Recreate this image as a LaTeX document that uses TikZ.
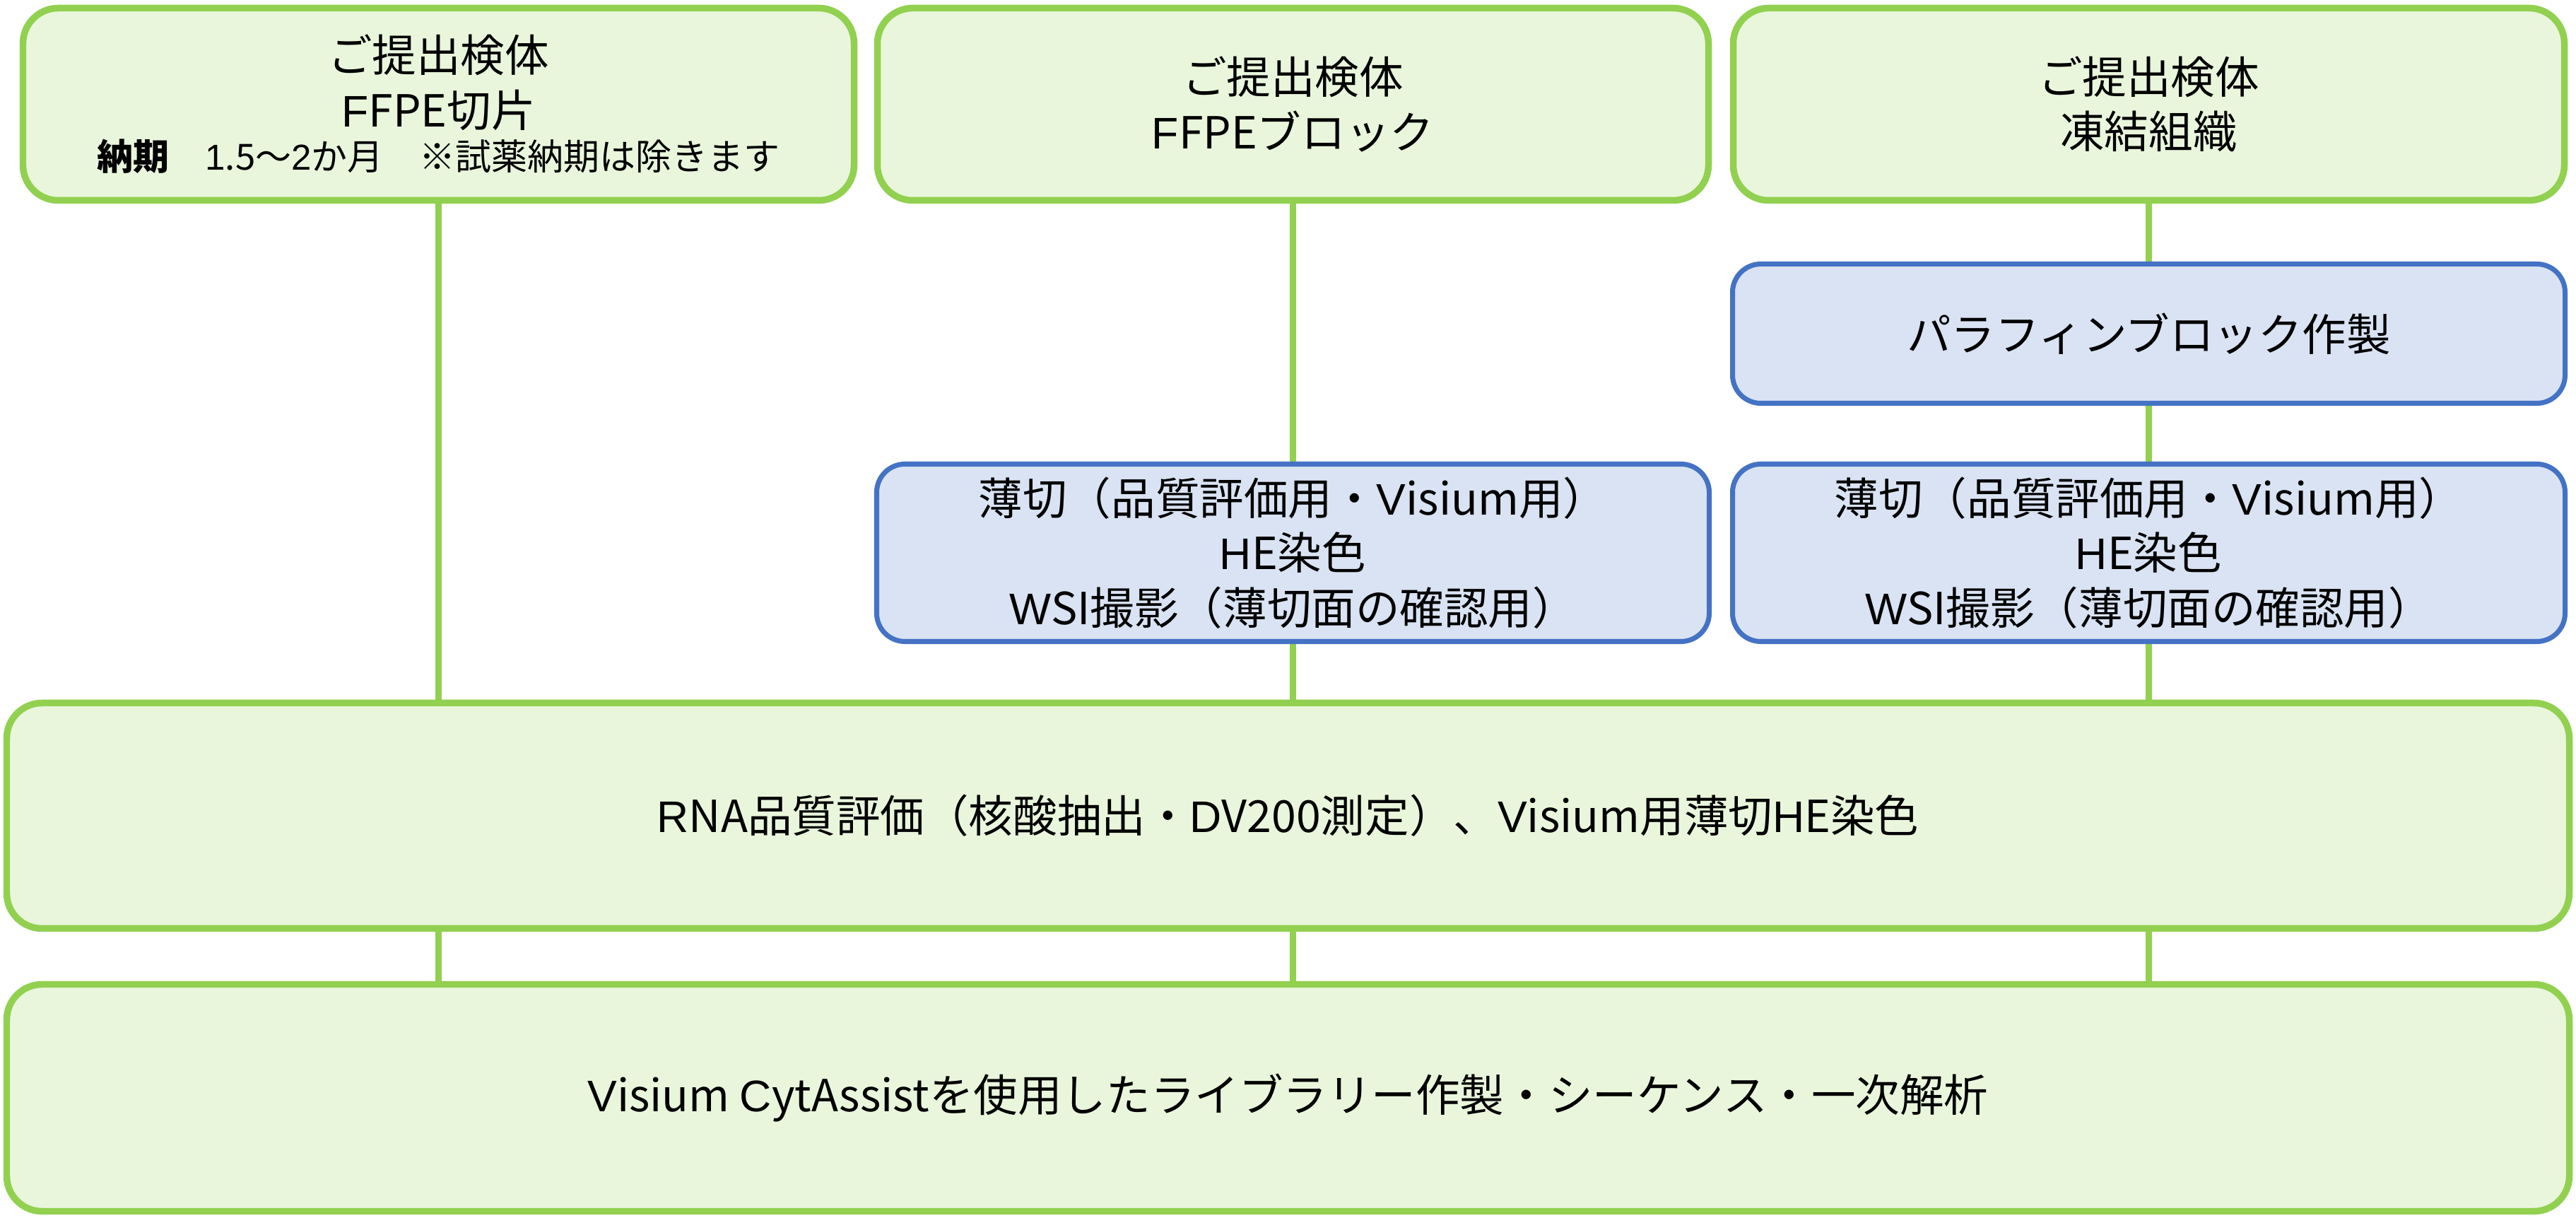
\documentclass[tikz,border=0pt]{standalone}
\usepackage{fontspec}
\setmainfont{Noto Sans CJK JP}
\newfontfamily\latfont{Liberation Sans}
\newfontfamily\jpfont{Noto Sans CJK JP}
\usetikzlibrary{backgrounds}
\definecolor{leafline}{HTML}{92D050}
\definecolor{leaffill}{HTML}{E9F6DC}
\definecolor{skyline}{HTML}{4472C4}
\definecolor{skyfill}{HTML}{DAE3F3}
% latin runs in Liberation Sans
\newXeTeXintercharclass\latclass
\newcount\latcount
\def\setlat#1#2{\latcount=`#1\relax
  \loop\XeTeXcharclass\latcount=\latclass
  \ifnum\latcount<`#2\relax\advance\latcount by 1\repeat}
\setlat{A}{Z}\setlat{a}{z}\setlat{0}{9}\setlat{.}{.}
\XeTeXinterchartoks 0 \latclass={\latfont}
\XeTeXinterchartoks 1 \latclass={\latfont}
\XeTeXinterchartoks 2 \latclass={\latfont}
\XeTeXinterchartoks 3 \latclass={\latfont}
\XeTeXinterchartoks 4095 \latclass={\latfont}
\XeTeXinterchartoks \latclass 0={\jpfont}
\XeTeXinterchartoks \latclass 1={\jpfont}
\XeTeXinterchartoks \latclass 2={\jpfont}
\XeTeXinterchartoks \latclass 3={\jpfont}
\XeTeXinterchartoks \latclass 4095={\jpfont}
\begin{document}
\XeTeXinterchartokenstate=1
\begin{tikzpicture}[
  greenbox/.style={draw=leafline, fill=leaffill, line width=2.7pt, rounded corners=0.5cm, align=center, inner sep=0pt},
  bluebox/.style={draw=skyline, fill=skyfill, line width=2pt, rounded corners=0.4cm, align=center, inner sep=0pt},
  link/.style={draw=leafline, line width=2.8pt},
  font=\fontsize{17.8}{22}\selectfont
]
\useasboundingbox (0,0) rectangle (36.45,17.23);

\node[greenbox, minimum width=11.76cm, minimum height=2.72cm] (cut) at (6.205,15.755)
  {ご提出検体\\FFPE切片\\[-4.5pt]{\fontsize{14.5}{17}\selectfont\textbf{納期}　1.5～2か月　※試薬納期は除きます}};
\node[greenbox, minimum width=11.76cm, minimum height=2.72cm] (block) at (18.295,15.755)
  {ご提出検体\\FFPEブロック};
\node[greenbox, minimum width=11.76cm, minimum height=2.72cm] (frozen) at (30.405,15.755)
  {ご提出検体\\凍結組織};

\node[bluebox, minimum width=11.78cm, minimum height=1.97cm] (paraffin) at (30.405,12.51)
  {パラフィンブロック作製};
\node[bluebox, minimum width=11.78cm, minimum height=2.51cm] (sliceB) at (18.295,9.41)
  {薄切（品質評価用・Visium用）\\HE染色\\WSI撮影（薄切面の確認用）};
\node[bluebox, minimum width=11.78cm, minimum height=2.51cm] (sliceC) at (30.405,9.41)
  {薄切（品質評価用・Visium用）\\HE染色\\WSI撮影（薄切面の確認用）};

\node[greenbox, minimum width=36.26cm, minimum height=3.19cm] (rna) at (18.225,5.69)
  {RNA品質評価（核酸抽出・DV200測定）、Visium用薄切HE染色};
\node[greenbox, minimum width=36.26cm, minimum height=3.21cm] (lib) at (18.225,1.70)
  {Visium CytAssistを使用したライブラリー作製・シーケンス・一次解析};

\begin{scope}[on background layer]
\draw[link] (cut.south) -- (cut.south |- rna.north);
\draw[link] (block.south) -- (sliceB.north);
\draw[link] (sliceB.south) -- (sliceB.south |- rna.north);
\draw[link] (frozen.south) -- (paraffin.north);
\draw[link] (paraffin.south) -- (sliceC.north);
\draw[link] (sliceC.south) -- (sliceC.south |- rna.north);
\draw[link] (cut.south |- rna.south) -- (cut.south |- lib.north);
\draw[link] (block.south |- rna.south) -- (block.south |- lib.north);
\draw[link] (frozen.south |- rna.south) -- (frozen.south |- lib.north);
\end{scope}
\end{tikzpicture}
\end{document}
